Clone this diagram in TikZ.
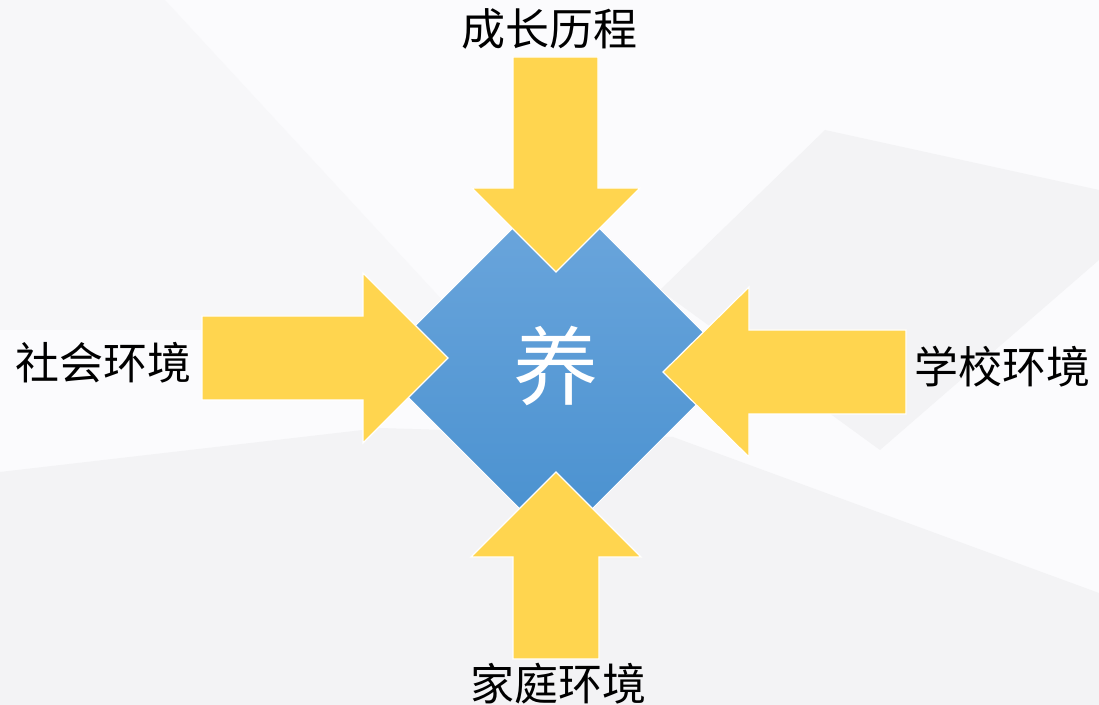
\documentclass[tikz,border=0pt]{standalone}
\usepackage{fontspec}
\newfontfamily\cjk{Noto Sans CJK SC}
\definecolor{bggray}{HTML}{F3F3F5}
\definecolor{bgwhite}{HTML}{FBFBFD}
\definecolor{bgmid}{HTML}{F7F7F9}
\definecolor{arrowyellow}{HTML}{FFD54F}
\definecolor{bluetop}{HTML}{6DA7DD}
\definecolor{bluebot}{HTML}{4890CF}
\tikzset{
  bigarrow/.style={fill=arrowyellow, draw=white, line width=0.9pt, line join=miter},
  label/.style={font=\cjk\fontsize{33}{33}\selectfont, text=black, inner sep=0pt},
  core/.style={font=\cjk\fontsize{64}{64}\selectfont, text=white, inner sep=0pt}
}
\begin{document}
\begin{tikzpicture}[x=0.75pt,y=-0.75pt]
\useasboundingbox (0,0) rectangle (1099,705);
% background
\fill[bgwhite] (0,0) rectangle (1099,705);
\fill[bgmid] (0,0) -- (165,0) -- (470,330) -- (0,330) -- cycle;
\fill[bggray] (825,130) -- (1099,190) -- (1099,260) -- (880,450) -- (660,290) -- cycle;
\fill[bggray] (0,472) -- (380,428) -- (673,437) -- (1099,593) -- (1099,705) -- (0,705) -- cycle;
% central diamond
\shade[top color=bluetop, bottom color=bluebot, draw=white, line width=0.6pt]
  (556,185) -- (736,365) -- (556,545) -- (376,365) -- cycle;
\node[core] (yang) at (556,366) {养};
% arrows
\fill[bigarrow] (513,57) -- (598,57) -- (598,188) -- (640,188) -- (556,272) -- (472,188) -- (513,188) -- cycle;
\fill[bigarrow] (513,659) -- (599,659) -- (599,557) -- (641,557) -- (556,472) -- (471,557) -- (513,557) -- cycle;
\fill[bigarrow] (202,316) -- (363,316) -- (363,273) -- (448,358) -- (363,443) -- (363,400) -- (202,400) -- cycle;
\fill[bigarrow] (906,330) -- (749,330) -- (749,287) -- (663,372) -- (749,457) -- (749,414) -- (906,414) -- cycle;
% labels
\node[label] (top) at (549,29) {成长历程};
\node[label] (left) at (104,363) {社会环境};
\node[label] (right) at (1002,367) {学校环境};
\node[label] (bottom) at (558,684) {家庭环境};
\end{tikzpicture}
\end{document}
